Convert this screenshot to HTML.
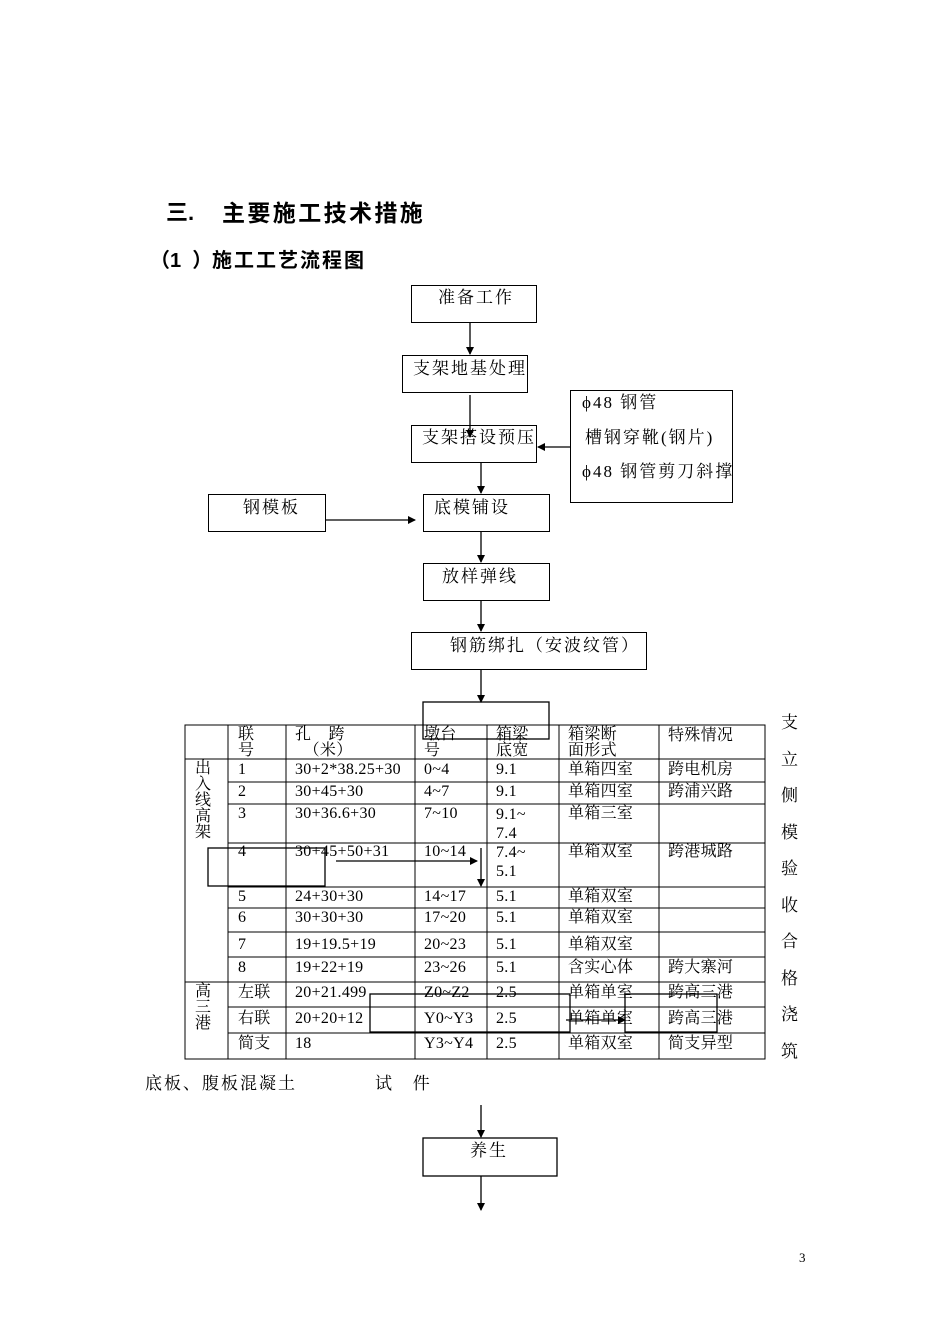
<!DOCTYPE html>
<html><head><meta charset="utf-8"><style>
body{margin:0;background:#fff;}
.p{position:relative;width:950px;height:1344px;font-family:"Liberation Serif","Noto Serif CJK SC",serif;color:#000;}
.t{position:absolute;white-space:nowrap;font-size:17px;line-height:20px;letter-spacing:2px;}
.b{position:absolute;border:1.3px solid #000;box-sizing:border-box;}
.s{font-size:16px;line-height:18px;letter-spacing:0.3px;}
.h{font-weight:bold;font-family:'Liberation Sans','Noto Sans CJK SC',sans-serif;}
</style></head><body><div class="p">
<div class="t h" style="left:166px;top:199px;font-size:22px;line-height:28px;letter-spacing:0">三.</div>
<div class="t h" style="left:222px;top:199px;font-size:23px;line-height:28px;letter-spacing:2.4px">主要施工技术措施</div>
<div class="t h" style="left:150px;top:248px;font-size:20px;line-height:26px;letter-spacing:0">（1&nbsp;&nbsp;）</div>
<div class="t h" style="left:212px;top:248px;font-size:20px;line-height:26px;letter-spacing:2px">施工工艺流程图</div>

<div class="b" style="left:411px;top:285px;width:126px;height:38px"></div><div class="t" style="left:438px;top:288px">准备工作</div>
<div class="b" style="left:402px;top:355px;width:126px;height:38px"></div><div class="t" style="left:413px;top:359px">支架地基处理</div>
<div class="b" style="left:411px;top:425px;width:126px;height:38px"></div><div class="t" style="left:422px;top:428px">支架搭设预压</div>
<div class="b" style="left:570px;top:390px;width:163px;height:113px"></div>
<div class="t" style="left:582px;top:393px">ϕ48 钢管</div>
<div class="t" style="left:585px;top:428px">槽钢穿靴(钢片)</div>
<div class="t" style="left:582px;top:462px">ϕ48 钢管剪刀斜撑</div>
<div class="b" style="left:208px;top:494px;width:118px;height:38px"></div><div class="t" style="left:243px;top:498px">钢模板</div>
<div class="b" style="left:423px;top:494px;width:127px;height:38px"></div><div class="t" style="left:434px;top:498px">底模铺设</div>
<div class="b" style="left:423px;top:563px;width:127px;height:38px"></div><div class="t" style="left:442px;top:567px">放样弹线</div>
<div class="b" style="left:411px;top:632px;width:236px;height:38px"></div><div class="t" style="left:450px;top:636px">钢筋绑扎（安波纹管）</div>

<svg style="position:absolute;left:0;top:0" width="950" height="1344">
<defs><marker id="a" markerWidth="8" markerHeight="8" refX="7" refY="4" orient="auto" markerUnits="userSpaceOnUse"><path d="M0,0L8,4L0,8z"/></marker></defs>
<g stroke="#000" stroke-width="1.3" fill="none">
<line x1="470" y1="322" x2="470" y2="354" marker-end="url(#a)"/>
<line x1="470" y1="395" x2="470" y2="437" marker-end="url(#a)"/>
<line x1="570" y1="447" x2="538" y2="447" marker-end="url(#a)"/>
<line x1="481" y1="462" x2="481" y2="493" marker-end="url(#a)"/>
<line x1="325" y1="520" x2="415" y2="520" marker-end="url(#a)"/>
<line x1="481" y1="532" x2="481" y2="562" marker-end="url(#a)"/>
<line x1="481" y1="601" x2="481" y2="631" marker-end="url(#a)"/>
<line x1="481" y1="670" x2="481" y2="702" marker-end="url(#a)"/>
<rect x="423" y="702" width="126" height="37"/>
<g stroke-width="1">
<rect x="185" y="725" width="580" height="334"/>
<line x1="228" y1="725" x2="228" y2="1059"/><line x1="286" y1="725" x2="286" y2="1059"/>
<line x1="415" y1="725" x2="415" y2="1059"/><line x1="487" y1="725" x2="487" y2="1059"/>
<line x1="559" y1="725" x2="559" y2="1059"/><line x1="659" y1="725" x2="659" y2="1059"/>
<line x1="185" y1="759" x2="765" y2="759"/>
<line x1="228" y1="782" x2="765" y2="782"/><line x1="228" y1="804" x2="765" y2="804"/>
<line x1="228" y1="843" x2="765" y2="843"/><line x1="228" y1="887" x2="765" y2="887"/>
<line x1="228" y1="908" x2="765" y2="908"/><line x1="228" y1="932" x2="765" y2="932"/>
<line x1="228" y1="957" x2="765" y2="957"/><line x1="185" y1="982" x2="765" y2="982"/>
<line x1="228" y1="1007" x2="765" y2="1007"/><line x1="228" y1="1033" x2="765" y2="1033"/>
</g>
<rect x="208" y="848" width="117" height="38"/>
<line x1="336" y1="861" x2="477" y2="861" marker-end="url(#a)"/>
<line x1="481" y1="848" x2="481" y2="886" marker-end="url(#a)"/>
<rect x="370" y="994" width="200" height="38"/>
<rect x="625" y="994" width="92" height="38"/>
<line x1="566" y1="1020" x2="625" y2="1020" marker-end="url(#a)"/>
<line x1="481" y1="1105" x2="481" y2="1137" marker-end="url(#a)"/>
<rect x="423" y="1138" width="134" height="38"/>
<line x1="481" y1="1176" x2="481" y2="1210" marker-end="url(#a)"/>
</g></svg>

<div class="t s" style="left:238px;top:727px;line-height:16px">联<br>号</div>
<div class="t s" style="left:295px;top:727px;line-height:16px">孔&nbsp;&nbsp;&nbsp;&nbsp;跨<br>&nbsp;&nbsp;（米）</div>
<div class="t s" style="left:424px;top:727px;line-height:16px">墩台<br>号</div>
<div class="t s" style="left:496px;top:727px;line-height:16px">箱梁<br>底宽</div>
<div class="t s" style="left:568px;top:727px;line-height:16px">箱梁断<br>面形式</div>
<div class="t s" style="left:668px;top:727px">特殊情况</div>
<div class="t s" style="left:195px;top:761px;line-height:16px">出<br>入<br>线<br>高<br>架</div>
<div class="t s" style="left:195px;top:984px;line-height:16px">高<br>三<br>港</div>

<div class="t s" style="left:238px;top:761px">1</div><div class="t s" style="left:295px;top:761px">30+2*38.25+30</div><div class="t s" style="left:424px;top:761px">0~4</div><div class="t s" style="left:496px;top:761px">9.1</div><div class="t s" style="left:568px;top:761px">单箱四室</div><div class="t s" style="left:668px;top:761px">跨电机房</div>
<div class="t s" style="left:238px;top:783px">2</div><div class="t s" style="left:295px;top:783px">30+45+30</div><div class="t s" style="left:424px;top:783px">4~7</div><div class="t s" style="left:496px;top:783px">9.1</div><div class="t s" style="left:568px;top:783px">单箱四室</div><div class="t s" style="left:668px;top:783px">跨浦兴路</div>
<div class="t s" style="left:238px;top:805px">3</div><div class="t s" style="left:295px;top:805px">30+36.6+30</div><div class="t s" style="left:424px;top:805px">7~10</div><div class="t s" style="left:496px;top:805px;line-height:19px">9.1~<br>7.4</div><div class="t s" style="left:568px;top:805px">单箱三室</div>
<div class="t s" style="left:238px;top:843px">4</div><div class="t s" style="left:295px;top:843px">30+45+50+31</div><div class="t s" style="left:424px;top:843px">10~14</div><div class="t s" style="left:496px;top:843px;line-height:19px">7.4~<br>5.1</div><div class="t s" style="left:568px;top:843px">单箱双室</div><div class="t s" style="left:668px;top:843px">跨港城路</div>
<div class="t s" style="left:238px;top:888px">5</div><div class="t s" style="left:295px;top:888px">24+30+30</div><div class="t s" style="left:424px;top:888px">14~17</div><div class="t s" style="left:496px;top:888px">5.1</div><div class="t s" style="left:568px;top:888px">单箱双室</div>
<div class="t s" style="left:238px;top:909px">6</div><div class="t s" style="left:295px;top:909px">30+30+30</div><div class="t s" style="left:424px;top:909px">17~20</div><div class="t s" style="left:496px;top:909px">5.1</div><div class="t s" style="left:568px;top:909px">单箱双室</div>
<div class="t s" style="left:238px;top:936px">7</div><div class="t s" style="left:295px;top:936px">19+19.5+19</div><div class="t s" style="left:424px;top:936px">20~23</div><div class="t s" style="left:496px;top:936px">5.1</div><div class="t s" style="left:568px;top:936px">单箱双室</div>
<div class="t s" style="left:238px;top:959px">8</div><div class="t s" style="left:295px;top:959px">19+22+19</div><div class="t s" style="left:424px;top:959px">23~26</div><div class="t s" style="left:496px;top:959px">5.1</div><div class="t s" style="left:568px;top:959px">含实心体</div><div class="t s" style="left:668px;top:959px">跨大寨河</div>
<div class="t s" style="left:238px;top:984px">左联</div><div class="t s" style="left:295px;top:984px">20+21.499</div><div class="t s" style="left:424px;top:984px">Z0~Z2</div><div class="t s" style="left:496px;top:984px">2.5</div><div class="t s" style="left:568px;top:984px">单箱单室</div><div class="t s" style="left:668px;top:984px">跨高三港</div>
<div class="t s" style="left:238px;top:1010px">右联</div><div class="t s" style="left:295px;top:1010px">20+20+12</div><div class="t s" style="left:424px;top:1010px">Y0~Y3</div><div class="t s" style="left:496px;top:1010px">2.5</div><div class="t s" style="left:568px;top:1010px">单箱单室</div><div class="t s" style="left:668px;top:1010px">跨高三港</div>
<div class="t s" style="left:238px;top:1035px">简支</div><div class="t s" style="left:295px;top:1035px">18</div><div class="t s" style="left:424px;top:1035px">Y3~Y4</div><div class="t s" style="left:496px;top:1035px">2.5</div><div class="t s" style="left:568px;top:1035px">单箱双室</div><div class="t s" style="left:668px;top:1035px">简支异型</div>

<div class="t" style="left:781px;top:705px;line-height:36.5px">支<br>立<br>侧<br>模<br>验<br>收<br>合<br>格<br>浇<br>筑</div>
<div class="t" style="left:145px;top:1074px">底板、腹板混凝土</div>
<div class="t" style="left:375px;top:1074px">试&nbsp;&nbsp;&nbsp;件</div>
<div class="t" style="left:470px;top:1141px">养生</div>
<div class="t" style="left:799px;top:1248px;font-size:13px;letter-spacing:0">3</div>
</div></body></html>
